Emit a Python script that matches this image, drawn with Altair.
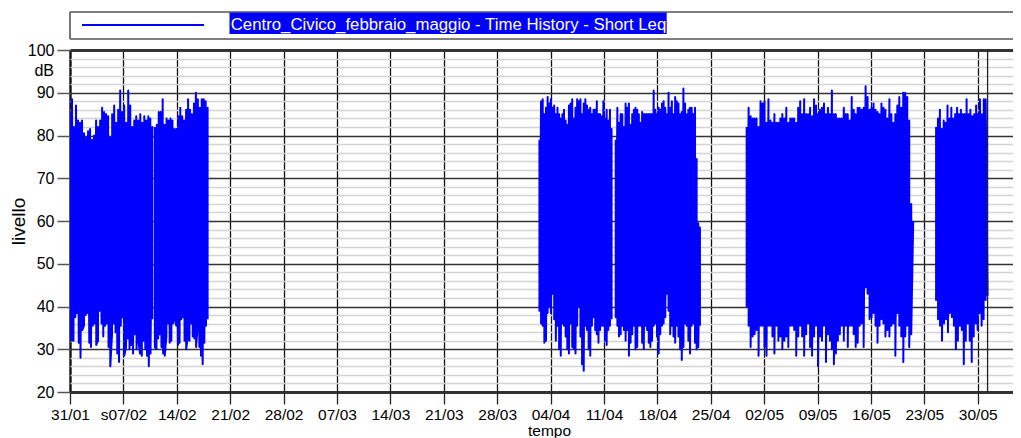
import altair as alt
import numpy as np
import pandas as pd

# ---------------- data ----------------
origin = "2010-01-31T00:00"
axis_end = "2010-06-03T15:00"

block_names = ["1a", "1b", "2a", "2b", "3", "4"]
block_start = ["2010-01-31T00:00", "2010-02-11T03:00", "2010-04-02T13:00",
               "2010-04-12T13:00", "2010-04-29T17:00", "2010-05-24T13:00"]
block_end = ["2010-02-10T19:00", "2010-02-18T01:00", "2010-04-12T00:00",
             "2010-04-23T14:00", "2010-05-21T13:00", "2010-05-31T07:00"]

top_1a = [85.5, 88.5, 82, 87, 83.5, 83, 83.5, 80.5, 79.5, 81, 81.5, 79, 80, 83.5, 82, 83.5,
          86.5, 85.5, 85, 84.5, 79.5, 85, 87, 83, 86, 90.5, 85.5, 87, 83, 90.5, 87, 82,
          83.5, 84.5, 83.5, 85, 83, 84.5, 83.5, 84.5, 84, 82]
bot_1a = [33.5, 32, 32, 37.5, 38.5, 31.5, 28, 34.5, 35.5, 38, 38.5, 31.5, 30.5, 35.5, 36, 31,
          32, 39, 36, 33, 35.5, 36, 30.5, 26, 33.5, 36, 34, 29, 27, 35.5, 37.5, 28.5,
          30.5, 32.5, 30, 31, 29, 33.5, 30, 32, 29, 28.5, 32, 30, 28.5, 26, 29, 37]
top_1b = [82, 82.5, 85.5, 85.5, 88.5, 82.5, 84, 83.5, 84, 83.5, 81.5, 81.5, 84.5, 86.5,
          84.5, 83.5, 86, 88.5, 86, 85, 87.5, 90, 88.5, 86.5, 88.5, 88.5, 88, 86.5]
bot_1b = [30.5, 30, 32.5, 33.5, 30.5, 29, 28.5, 33, 36, 31.5, 32, 36, 37, 35.5, 31, 31.5,
          37, 37.5, 32, 30, 33, 32, 36, 33, 32.5, 30.5, 35.5, 30.5, 28.5, 26.5, 31.5, 35.5, 37]
top_2a = [79, 88, 88.5, 85, 86.5, 89, 87.5, 88.5, 86.5, 87, 85, 86.5, 85, 84, 85, 86, 83.5,
          82.5, 87, 87.5, 88.5, 84, 86.5, 88.5, 88, 88.5, 85, 87.5, 88.5, 87, 86, 86.5, 85,
          86, 86, 88, 85, 85, 84.5, 88, 84, 86, 83.5, 86, 81.5]
bot_2a = [39, 36, 35.5, 31.5, 32, 38.5, 40, 38.5, 43, 37, 32, 35.5, 30, 28.5, 36, 35.5, 33,
          30, 29, 36, 30.5, 30, 29, 35.5, 40, 33, 26.5, 25, 35.5, 34.5, 30, 28.5, 35.5,
          37.5, 34.5, 33.5, 31.5, 34.5, 35.5, 35.5, 32, 31, 34.5, 35.5, 37]
top_2b = [79, 86.5, 83, 85, 85, 82, 87.5, 86.5, 87.5, 82.5, 85, 86, 86.5, 86, 85, 83, 85.5,
          85, 85, 85, 85, 85, 85, 90.5, 86, 85, 86.5, 86, 87.5, 88, 86.5, 85, 90, 86.5, 88,
          85, 89, 88, 87.5, 85, 85.5, 91, 87.5, 85, 86, 86.5, 86.5, 85, 86.5, 74.5, 59.5, 58.5]
bot_2b = [37.5, 35.5, 33, 33.5, 35.5, 34.5, 32, 34.5, 28.5, 31.5, 33.5, 35.5, 30, 30.5, 35.5,
          35.5, 31.5, 30, 35.5, 34.5, 31.5, 30.5, 32, 35.5, 36, 33, 29, 33.5, 35.5, 36, 37.5,
          43, 39, 33.5, 35.5, 33, 31.5, 35.5, 33, 30, 27.5, 30.5, 36, 35.5, 32, 29, 35.5, 36,
          31.5, 30, 30.5, 35.5]
top_3 = [82, 86.5, 84.5, 84, 84, 84, 82, 88, 87.5, 88, 83, 88.5, 83.5, 83, 85, 83, 83, 84,
         85, 84, 86.5, 83, 84, 84, 84, 83, 86.5, 88, 85, 88.5, 85, 85, 86.5, 84.5, 88.5, 87,
         85, 86, 86.5, 87.5, 85, 86.5, 85, 90.5, 85, 85, 84, 84, 84, 86.5, 85, 85, 83.5, 89,
         86, 85, 86.5, 86.5, 86, 86.5, 91.5, 89, 86, 86.5, 87.5, 86, 85.5, 85, 87.5, 86.5,
         86, 84, 88.5, 85, 83, 85, 87, 89, 86.5, 90, 90, 89, 83.5, 64, 60]
bot_3 = [40, 35.5, 30.5, 33, 33.5, 34.5, 28.5, 35.5, 35.5, 30.5, 28.5, 35.5, 35.5, 33, 29,
         35.5, 32, 33, 30, 32, 33, 30.5, 35.5, 35.5, 34.5, 28.5, 33, 35.5, 33, 28.5, 33.5, 36,
         30.5, 28.5, 33, 35.5, 26, 33, 32, 35.5, 27, 33.5, 32, 30, 26.5, 29, 32, 33.5, 35.5,
         32, 35.5, 30.5, 35.5, 35.5, 33.5, 30.5, 31.5, 35.5, 36, 30.5, 44.5, 43, 37, 37.5,
         38.5, 35.5, 31.5, 35.5, 37, 36, 33, 34.5, 33, 35.5, 36, 28.5, 38.5, 35.5, 33, 27,
         33, 35.5, 30.5, 33.5, 60]
top_4 = [82, 84, 86, 81.5, 83.5, 83, 87, 84, 86.5, 84, 85, 86.5, 85, 86, 85, 85, 88.5, 85,
         86, 84.5, 85, 87, 85, 88.5, 85, 88.5, 88.5, 43]
bot_4 = [41.5, 37, 35.5, 32, 36, 37, 34, 38.5, 37.5, 35.5, 30, 32, 35.5, 34.5, 26.5, 32, 36,
         32, 27, 33, 36, 34.5, 38.5, 35.5, 37, 41.5, 42.5]

block_tops = [top_1a, top_1b, top_2a, top_2b, top_3, top_4]
block_bots = [bot_1a, bot_1b, bot_2a, bot_2b, bot_3, bot_4]

tick_dates = ["2010-01-31", "2010-02-07", "2010-02-14", "2010-02-21", "2010-02-28",
              "2010-03-07", "2010-03-14", "2010-03-21", "2010-03-28", "2010-04-04",
              "2010-04-11", "2010-04-18", "2010-04-25", "2010-05-02", "2010-05-09",
              "2010-05-16", "2010-05-23", "2010-05-30"]
tick_labels = ["31/01", "s07/02", "14/02", "21/02", "28/02", "07/03", "14/03", "21/03",
               "28/03", "04/04", "11/04", "18/04", "25/04", "02/05", "09/05", "16/05",
               "23/05", "30/05"]

legend_text = "Centro_Civico_febbraio_maggio - Time History - Short Leq"
x_title = "tempo"
y_title = "livello"
unit_label = "dB"

# ---------------- build tables ----------------
t0 = pd.Timestamp(origin)


def days(s):
    return (pd.Timestamp(s) - t0) / pd.Timedelta(days=1)


rows = []
for name, s, e, tp, bt in zip(block_names, block_start, block_end, block_tops, block_bots):
    a, b = days(s), days(e)
    for v, t in zip(tp, np.linspace(a, b, len(tp))):
        rows.append({"block": name, "t": t, "v": v})
    for v, t in zip(bt, np.linspace(a, b, len(bt))):
        rows.append({"block": name, "t": t, "v": v})
df = pd.DataFrame(rows).sort_values(["block", "t"]).reset_index(drop=True)

tick_days = [days(d) for d in tick_dates]
x_max = days(axis_end)
end_df = pd.DataFrame({"t": [days(block_end[-1])]})
unit_df = pd.DataFrame({"v": [95], "lab": [unit_label]})

FONT = "Liberation Sans"
BLUE = "#0000ff"
W, H = 943, 342

label_expr_x = "[" + ",".join("'%s'" % l for l in tick_labels) + "][round(datum.value / 7)]"

xscale = alt.Scale(domain=[0, x_max], nice=False, zero=False)
yscale = alt.Scale(domain=[20, 100], nice=False, zero=False)

x_axis = alt.Axis(
    values=tick_days, labelExpr=label_expr_x, title=x_title,
    grid=True, gridColor="#111111",
    gridWidth={"condition": {"test": "datum.value === 0", "value": 2.4}, "value": 1.3},
    domain=False, ticks=True, tickSize=12, tickColor="#222222", tickWidth=1.3,
    labelPadding=3, labelFontSize=15.5, labelColor="#000000", labelFont=FONT,
    labelOverlap=False, labelFlush=False,
    titleFont=FONT, titleFontSize=15.5, titleFontWeight="normal", titleColor="#000000",
    titleX=479, titleY=43.5, titleBaseline="alphabetic", titleAnchor="middle",
)
y_axis = alt.Axis(
    values=list(range(20, 101, 2)),
    labelExpr="datum.value % 10 === 0 ? datum.label : ''",
    title=y_title, grid=True,
    gridColor={"condition": {"test": "datum.value % 10 === 0", "value": "#333333"}, "value": "#d4d4d4"},
    gridWidth={"condition": {"test": "datum.value === 20 || datum.value === 100", "value": 2.8}, "value": 1.6},
    domain=False, ticks=True, tickSize=13, tickWidth=1.5,
    tickColor={"condition": {"test": "datum.value % 10 === 0", "value": "#555555"}, "value": "transparent"},
    labelPadding=3, labelFontSize=16, labelColor="#000000", labelFont=FONT,
    labelOverlap=False, labelFlush=False,
    titleFont=FONT, titleFontSize=19, titleFontWeight="normal", titleColor="#000000",
    titleX=-46, titleY=H / 2, titleBaseline="alphabetic", titleAngle=-90, titleAnchor="middle",
)

line = alt.Chart(df).mark_line(color=BLUE, strokeWidth=2, strokeJoin="round", clip=True).encode(
    x=alt.X("t:Q", scale=xscale, axis=x_axis),
    y=alt.Y("v:Q", scale=yscale, axis=y_axis),
    detail="block:N",
)

end_rule = alt.Chart(end_df).mark_rule(color="#222222", strokeWidth=1.3).encode(
    x=alt.X("t:Q", scale=xscale, axis=x_axis)
)

unit = alt.Chart(unit_df).mark_text(align="right", baseline="middle", font=FONT, fontSize=16,
                                    color="#000000").encode(
    x=alt.value(-16), y=alt.Y("v:Q", scale=yscale, axis=y_axis), text="lab:N"
)

one = alt.Data(values=[{"k": 1}])
legend_top = alt.Chart(one).mark_rule(color="#555555", strokeWidth=1.6).encode(
    x=alt.value(0), x2=alt.value(W + 10), y=alt.value(-38)
)
legend_bottom = alt.Chart(one).mark_rule(color="#555555", strokeWidth=1.6).encode(
    x=alt.value(0), x2=alt.value(W + 10), y=alt.value(-11)
)
legend_left = alt.Chart(one).mark_rule(color="#555555", strokeWidth=1.6).encode(
    x=alt.value(0), y=alt.value(-38), y2=alt.value(-11)
)
legend_sample = alt.Chart(one).mark_rule(color=BLUE, strokeWidth=2).encode(
    x=alt.value(12), x2=alt.value(134), y=alt.value(-25)
)
legend_bg = alt.Chart(one).mark_rect(fill=BLUE).encode(
    x=alt.value(159.5), x2=alt.value(596.7), y=alt.value(-37.5), y2=alt.value(-16)
)
legend_label = alt.Chart(one).mark_text(align="left", baseline="alphabetic", font=FONT,
                                        fontSize=16.8, color="white").encode(
    x=alt.value(160.7), y=alt.value(-20), text=alt.value(legend_text)
)

chart = alt.layer(
    line, end_rule, unit, legend_top, legend_bottom, legend_left, legend_sample,
    legend_bg, legend_label
).properties(
    width=W, height=H,
    autosize=alt.AutoSizeParams(type="none"),
    padding={"left": 62, "top": 42, "right": 0, "bottom": 47},
).configure_view(stroke=None)

chart.save("out.html", embed_options={"renderer": "svg", "actions": False})
